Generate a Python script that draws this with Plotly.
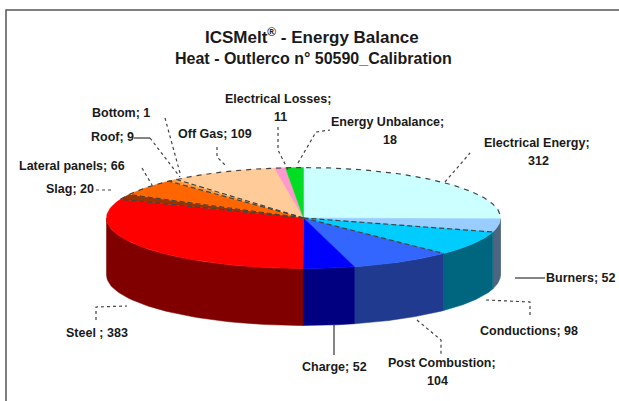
import numpy as np
import plotly.graph_objects as go

# Energy balance items, clockwise from twelve o'clock
categories = ["Electrical Energy", "Burners", "Conductions", "Post Combustion", "Charge",
              "Steel", "Slag", "Lateral panels", "Roof", "Bottom", "Off Gas",
              "Electrical Losses", "Energy Unbalance"]
values = [312, 52, 98, 104, 52, 383, 20, 66, 9, 1, 109, 11, 18]
top_colors = ["#CCFFFF", "#99CCFF", "#00CCFF", "#3366FF", "#0000FF", "#FF0000", "#993300",
              "#FF6600", "#FF9933", "#FFCC99", "#FFCC99", "#FF99CC", "#00DD22"]
side_colors = ["#668080", "#4D6680", "#006680", "#1F3A8F", "#000080", "#800000", "#4D1A00",
               "#803300", "#804D1A", "#80664D", "#80664D", "#804D66", "#006600"]

# Pie geometry in page pixels
CX, CY, RX, RY, DEPTH = 303.5, 218.0, 197.0, 50.5, 57.0

total = sum(values)
edges = np.concatenate([[0], np.cumsum(values)]) * 360.0 / total


def rim(deg, drop=0.0):
    a = np.radians(deg)
    return CX + RX * np.sin(a), CY - RY * np.cos(a) + drop


fig = go.Figure()


def polygon(xs, ys, color):
    fig.add_trace(go.Scatter(x=xs, y=ys, mode="lines", fill="toself", fillcolor=color,
                             line=dict(color=color, width=0.5), hoverinfo="skip",
                             showlegend=False))


def stroke(xs, ys, color="#444444", width=1.2, dash="solid"):
    fig.add_trace(go.Scatter(x=list(xs), y=list(ys), mode="lines",
                             line=dict(color=color, width=width, dash=dash),
                             hoverinfo="skip", showlegend=False))


# Outer wall of the slices facing the viewer
for i, color in enumerate(side_colors):
    lo, hi = max(edges[i], 90.0), min(edges[i + 1], 270.0)
    if hi <= lo:
        continue
    t = np.linspace(lo, hi, 60)
    x, y = rim(t)
    xb, yb = rim(t[::-1], DEPTH)
    polygon(np.r_[x, xb, x[0]], np.r_[y, yb, y[0]], color)

# Top face of each slice
for i, color in enumerate(top_colors):
    t = np.linspace(edges[i], edges[i + 1], 80)
    x, y = rim(t)
    polygon(np.r_[CX, x, CX], np.r_[CY, y, CY], color)

# Dark dashed borders on the far rim and on some slice edges
t_back = np.linspace(edges[6], 360 + 90, 200)
xb, yb = rim(t_back)
stroke(xb, yb, dash="5px,5px")
for k in (2, 3, 6, 7, 8, 10):
    xe, ye = rim(edges[k])
    stroke([CX, xe], [CY, ye], dash="5px,3px")

# Leader lines from slices to their labels
leaders = [
    ([445, 470], [182, 153]),
    ([298, 316, 330], [163, 132, 130]),
    ([278, 278, 288], [127, 150, 170]),
    ([217, 217, 227], [147, 157, 167]),
    ([165, 180], [118, 173]),
    ([150, 180], [138, 177]),
    ([142, 152], [168, 185]),
    ([96, 113], [190, 190]),
    ([96, 96, 127], [320, 307, 306]),
    ([486, 530, 530], [300, 302, 317]),
    ([417, 441, 441], [320, 340, 355]),
]
for lx, ly in leaders:
    stroke(lx, ly, color="#444444", dash="3px,3px")
stroke([515, 545], [278, 278], color="#333333", width=1.2)
stroke([334, 334], [325, 355], color="#333333", width=1.2)
stroke([134, 150], [138, 138], color="#333333", width=1.2)

# Label text and where it sits on the page
labels = [
    ("ICSMelt<sup>®</sup> - Energy Balance", 312, 36, 17),
    ("Heat - Outlerco n° 50590_Calibration", 313, 58, 16),
    ("Electrical Losses;", 278, 99, 12.5),
    ("11", 280, 117, 12.5),
    ("Off Gas; 109", 215, 134, 12.5),
    ("Energy Unbalance;", 387, 122, 12.5),
    ("18", 390, 140, 12.5),
    ("Electrical Energy;", 537, 143, 12.5),
    ("312", 538, 161, 12.5),
    ("Bottom; 1", 121, 113, 12.5),
    ("Roof; 9", 112, 137, 12.5),
    ("Lateral panels; 66", 72, 166, 12.5),
    ("Slag; 20", 70, 189, 12.5),
    ("Burners; 52", 581, 278, 12.5),
    ("Conductions; 98", 529, 331, 12.5),
    ("Steel ; 383", 97, 333, 12.5),
    ("Charge; 52", 334, 367, 12.5),
    ("Post Combustion;", 442, 363, 12.5),
    ("104", 437, 381, 12.5),
]
annotations = [
    dict(text=f"<b>{txt}</b>", x=x, y=y, xref="x", yref="y", showarrow=False, xanchor="center",
         yanchor="middle", font=dict(family="Liberation Sans", size=size, color="#1a1a1a"))
    for txt, x, y, size in labels
]

fig.update_layout(
    width=619, height=401, margin=dict(l=0, r=0, t=0, b=0),
    paper_bgcolor="white", plot_bgcolor="white", showlegend=False,
    xaxis=dict(range=[0, 619], visible=False, fixedrange=True),
    yaxis=dict(range=[401, 0], visible=False, fixedrange=True),
    annotations=annotations,
    shapes=[dict(type="path", path="M 6 401 L 6 10 L 619 10", xref="x", yref="y",
                 line=dict(color="#555555", width=1.5))],
)
fig.write_html("out.html", config=dict(displayModeBar=False))
